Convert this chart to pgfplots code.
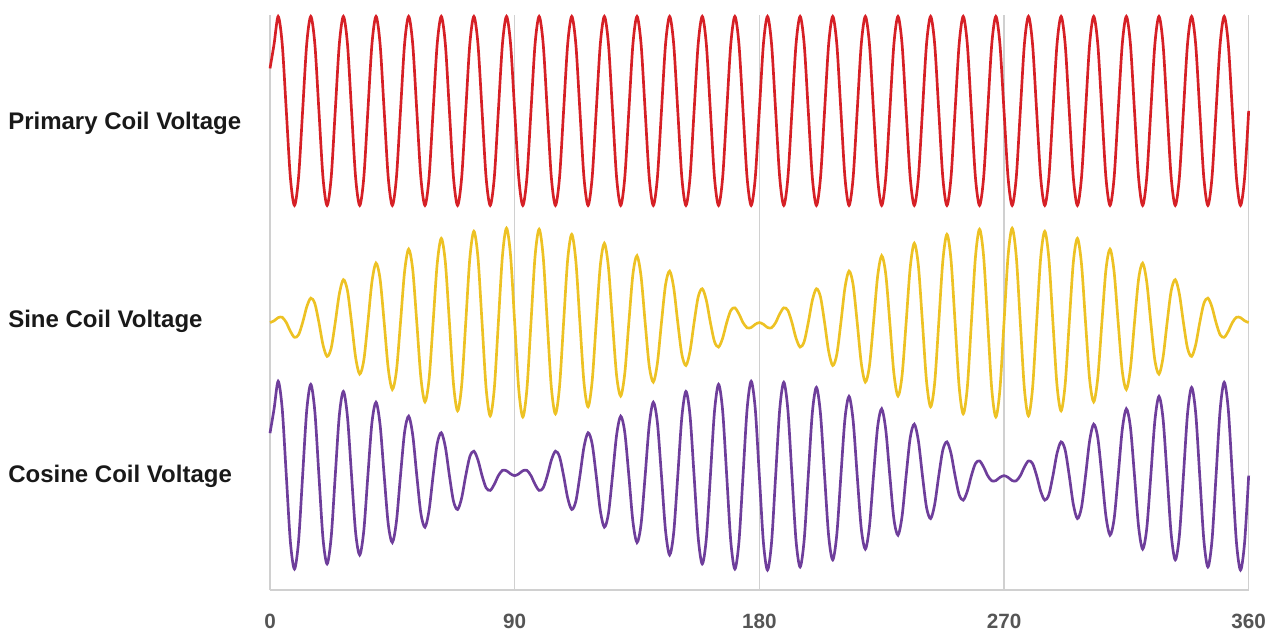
\documentclass[border=0pt]{standalone}
\usepackage{pgfplots}
\pgfplotsset{compat=1.18}
\usepackage{pgfplotstable}
\usepackage{fontspec}
\setmainfont{Liberation Sans}
\definecolor{cred}{RGB}{214,32,38}
\definecolor{cyel}{RGB}{237,194,36}
\definecolor{cpur}{RGB}{110,62,155}
\definecolor{gridgray}{RGB}{208,208,208}
\definecolor{tickgray}{RGB}{85,85,85}
\definecolor{labelblack}{RGB}{25,25,25}
% t = angle (deg), p = primary, s = sine coil, c = cosine coil (each drawn around its own baseline)
\pgfplotstableread{
t p s c
0 5.52 2.83 1.66
1.5 5.777 2.849 1.917
3 6.07 2.882 2.209
4.5 5.777 2.886 1.915
6 5.07 2.83 1.21
7.5 4.363 2.738 0.509
9 4.07 2.674 0.222
10.5 4.363 2.701 0.515
12 5.07 2.83 1.21
13.5 5.777 2.995 1.898
15 6.07 3.089 2.176
16.5 5.777 3.031 1.888
18 5.07 2.83 1.21
19.5 4.363 2.594 0.544
21 4.07 2.472 0.276
22.5 4.363 2.559 0.557
24 5.07 2.83 1.21
25.5 5.777 3.134 1.848
27 6.07 3.284 2.101
28.5 5.777 3.167 1.831
30 5.07 2.83 1.21
31.5 4.363 2.461 0.607
33 4.07 2.285 0.371
34.5 4.363 2.430 0.627
36 5.07 2.83 1.21
37.5 5.777 3.261 1.771
39 6.07 3.459 1.987
40.5 5.777 3.289 1.748
42 5.07 2.83 1.21
43.5 4.363 2.343 0.697
45 4.07 2.123 0.503
46.5 4.363 2.317 0.723
48 5.07 2.83 1.21
49.5 5.777 3.368 1.669
51 6.07 3.607 1.839
52.5 5.777 3.391 1.641
54 5.07 2.83 1.21
55.5 4.363 2.247 0.810
57 4.07 1.991 0.665
58.5 4.363 2.227 0.841
60 5.07 2.83 1.21
61.5 5.777 3.451 1.547
63 6.07 3.721 1.664
64.5 5.777 3.468 1.514
66 5.07 2.83 1.21
67.5 4.363 2.177 0.939
69 4.07 1.896 0.852
70.5 4.363 2.164 0.974
72 5.07 2.83 1.21
73.5 5.777 3.508 1.411
75 6.07 3.796 1.469
76.5 5.777 3.518 1.375
78 5.07 2.83 1.21
79.5 4.363 2.135 1.081
81 4.07 1.842 1.054
82.5 4.363 2.129 1.118
84 5.07 2.83 1.21
85.5 5.777 3.535 1.266
87 6.07 3.829 1.262
88.5 5.777 3.537 1.229
90 5.07 2.83 1.21
91.5 4.363 2.123 1.229
93 4.07 1.831 1.262
94.5 4.363 2.125 1.266
96 5.07 2.83 1.21
97.5 5.777 3.531 1.118
99 6.07 3.818 1.054
100.5 5.777 3.525 1.081
102 5.07 2.83 1.21
103.5 4.363 2.142 1.375
105 4.07 1.864 1.469
106.5 4.363 2.152 1.411
108 5.07 2.83 1.21
109.5 5.777 3.497 0.974
111 6.07 3.764 0.852
112.5 5.777 3.483 0.939
114 5.07 2.83 1.21
115.5 4.363 2.192 1.514
117 4.07 1.939 1.664
118.5 4.363 2.209 1.547
120 5.07 2.83 1.21
121.5 5.777 3.433 0.841
123 6.07 3.669 0.665
124.5 5.777 3.413 0.810
126 5.07 2.83 1.21
127.5 4.363 2.269 1.641
129 4.07 2.053 1.839
130.5 4.363 2.292 1.669
132 5.07 2.83 1.21
133.5 5.777 3.343 0.723
135 6.07 3.537 0.503
136.5 5.777 3.317 0.697
138 5.07 2.83 1.21
139.5 4.363 2.371 1.748
141 4.07 2.201 1.987
142.5 4.363 2.400 1.771
144 5.07 2.83 1.21
145.5 5.777 3.231 0.627
147 6.07 3.375 0.371
148.5 5.777 3.200 0.607
150 5.07 2.83 1.21
151.5 4.363 2.493 1.831
153 4.07 2.376 2.101
154.5 4.363 2.526 1.848
156 5.07 2.83 1.21
157.5 5.777 3.101 0.557
159 6.07 3.188 0.276
160.5 5.777 3.066 0.544
162 5.07 2.83 1.21
163.5 4.363 2.629 1.888
165 4.07 2.571 2.176
166.5 4.363 2.665 1.898
168 5.07 2.83 1.21
169.5 5.777 2.959 0.515
171 6.07 2.986 0.222
172.5 5.777 2.922 0.509
174 5.07 2.83 1.21
175.5 4.363 2.775 1.915
177 4.07 2.778 2.209
178.5 4.363 2.812 1.917
180 5.07 2.83 1.21
181.5 5.777 2.812 0.503
183 6.07 2.778 0.211
184.5 5.777 2.775 0.505
186 5.07 2.83 1.21
187.5 4.363 2.922 1.911
189 4.07 2.986 2.198
190.5 4.363 2.959 1.905
192 5.07 2.83 1.21
193.5 5.777 2.665 0.522
195 6.07 2.571 0.244
196.5 5.777 2.629 0.532
198 5.07 2.83 1.21
199.5 4.363 3.066 1.877
201 4.07 3.188 2.144
202.5 4.363 3.101 1.863
204 5.07 2.83 1.21
205.5 5.777 2.526 0.572
207 6.07 2.376 0.319
208.5 5.777 2.493 0.589
210 5.07 2.83 1.21
211.5 4.363 3.200 1.813
213 4.07 3.375 2.049
214.5 4.363 3.231 1.793
216 5.07 2.83 1.21
217.5 5.777 2.400 0.649
219 6.07 2.201 0.433
220.5 5.777 2.371 0.672
222 5.07 2.83 1.21
223.5 4.363 3.317 1.723
225 4.07 3.537 1.917
226.5 4.363 3.343 1.697
228 5.07 2.83 1.21
229.5 5.777 2.292 0.751
231 6.07 2.053 0.581
232.5 5.777 2.269 0.780
234 5.07 2.83 1.21
235.5 4.363 3.413 1.611
237 4.07 3.669 1.755
238.5 4.363 3.433 1.580
240 5.07 2.83 1.21
241.5 5.777 2.209 0.873
243 6.07 1.939 0.756
244.5 5.777 2.192 0.906
246 5.07 2.83 1.21
247.5 4.363 3.483 1.481
249 4.07 3.764 1.568
250.5 4.363 3.497 1.446
252 5.07 2.83 1.21
253.5 5.777 2.152 1.009
255 6.07 1.864 0.951
256.5 5.777 2.142 1.045
258 5.07 2.83 1.21
259.5 4.363 3.525 1.339
261 4.07 3.818 1.366
262.5 4.363 3.531 1.302
264 5.07 2.83 1.21
265.5 5.777 2.125 1.155
267 6.07 1.831 1.158
268.5 5.777 2.123 1.192
270 5.07 2.83 1.21
271.5 4.363 3.537 1.192
273 4.07 3.829 1.158
274.5 4.363 3.535 1.155
276 5.07 2.83 1.21
277.5 5.777 2.129 1.302
279 6.07 1.842 1.366
280.5 5.777 2.135 1.339
282 5.07 2.83 1.21
283.5 4.363 3.518 1.045
285 4.07 3.796 0.951
286.5 4.363 3.508 1.009
288 5.07 2.83 1.21
289.5 5.777 2.164 1.446
291 6.07 1.896 1.568
292.5 5.777 2.177 1.481
294 5.07 2.83 1.21
295.5 4.363 3.468 0.906
297 4.07 3.721 0.756
298.5 4.363 3.451 0.873
300 5.07 2.83 1.21
301.5 5.777 2.227 1.580
303 6.07 1.991 1.755
304.5 5.777 2.247 1.611
306 5.07 2.83 1.21
307.5 4.363 3.391 0.780
309 4.07 3.607 0.581
310.5 4.363 3.368 0.751
312 5.07 2.83 1.21
313.5 5.777 2.317 1.697
315 6.07 2.123 1.917
316.5 5.777 2.343 1.723
318 5.07 2.83 1.21
319.5 4.363 3.289 0.672
321 4.07 3.459 0.433
322.5 4.363 3.261 0.649
324 5.07 2.83 1.21
325.5 5.777 2.430 1.793
327 6.07 2.285 2.049
328.5 5.777 2.461 1.813
330 5.07 2.83 1.21
331.5 4.363 3.167 0.589
333 4.07 3.284 0.319
334.5 4.363 3.134 0.572
336 5.07 2.83 1.21
337.5 5.777 2.559 1.863
339 6.07 2.472 2.144
340.5 5.777 2.594 1.877
342 5.07 2.83 1.21
343.5 4.363 3.031 0.532
345 4.07 3.089 0.244
346.5 4.363 2.995 0.522
348 5.07 2.83 1.21
349.5 5.777 2.701 1.905
351 6.07 2.674 2.198
352.5 5.777 2.738 1.911
354 5.07 2.83 1.21
355.5 4.363 2.886 0.505
357 4.07 2.882 0.211
358.5 4.363 2.849 0.503
360 5.07 2.83 1.21
}\datatab

\begin{document}
\begin{tikzpicture}
\path[use as bounding box] (0,0) rectangle (960pt,477pt);
\begin{axis}[
  at={(202.5pt,34.5pt)}, anchor=south west,
  scale only axis, width=734pt, height=431.25pt,
  xmin=0, xmax=360, ymin=0, ymax=6.085,
  axis lines*=left,
  axis line style={draw=gridgray, line width=1.1pt},
  xtick={0,90,180,270,360},
  xmajorgrids,
  grid style={draw=gridgray, line width=1.1pt},
  major tick length=0pt,
  ytick={1.135,2.78,4.875},
  yticklabels={Cosine Coil Voltage, Sine Coil Voltage, Primary Coil Voltage},
  yticklabel style={anchor=base west, inner sep=0pt, xshift=-196.5pt, font=\fontsize{18}{21}\selectfont\bfseries, text=labelblack},
  xticklabel style={anchor=north, inner sep=0pt, yshift=-18pt, font=\fontsize{15.5}{18}\selectfont\bfseries, text=tickgray},
  /pgf/number format/assume math mode=true,
  clip=false,
]
\addplot[smooth, draw=cred, line width=2pt] table[x=t, y=p] {\datatab};
\addplot[smooth, draw=cyel, line width=2pt] table[x=t, y=s] {\datatab};
\addplot[smooth, draw=cpur, line width=2pt] table[x=t, y=c] {\datatab};
\end{axis}
\end{tikzpicture}
\end{document}
